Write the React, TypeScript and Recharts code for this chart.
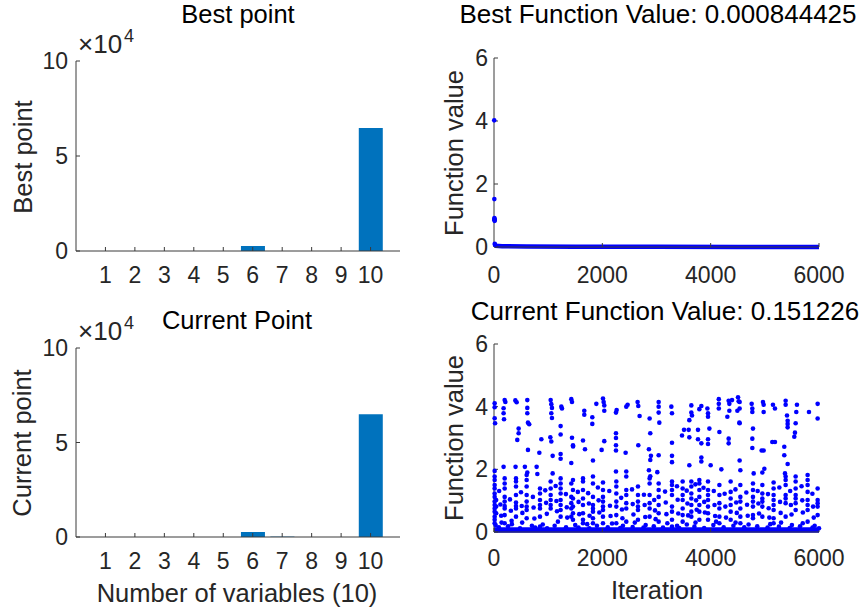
import React from 'react';
import { BarChart, Bar, ComposedChart, Scatter, Line, XAxis, YAxis } from 'recharts';

const FONT = '"Liberation Sans", Arial, Helvetica, sans-serif';
const AXIS = '#3a3a3a';
const TEXT = '#262626';
const BAR_BLUE = '#0072BD';
const DOT_BLUE = '#0000FF';

// bar panels
const variableLabels = ['1', '2', '3', '4', '5', '6', '7', '8', '9', '10'];
const bestPointValues = [0, 0, 0, 0, 0, 2600, 0, 0, 0, 64800];
const currentPointValues = [0, 0, 0, 0, 0, 2600, 200, 0, 0, 64900];
const barTicks = [0, 50000, 100000];

// function value panels
const iterTicks = [0, 2000, 4000, 6000];
const valueTicks = [0, 2, 4, 6];

// best function value: early jumps, then the flat trail near zero
const bestEarly: [number, number][] = [
  [4, 4.02], [6, 1.52], [8, 0.92], [9, 0.89], [10, 0.87], [11, 0.85], [12, 0.83], [14, 0.1], [18, 0.07],
];
const bestTrail: [number, number][] = [
  [20, 0.04], [150, 0.025], [600, 0.015], [1500, 0.01], [3000, 0.006], [4500, 0.002], [6000, 0.0008],
];

// current function value, upper scatter (> ~1.85)
const currentHigh: [number, number][] = [
  [12, 4.11], [12, 3.98], [12, 3.63], [20, 3.47], [197, 4.21], [210, 4.15], [177, 3.95], [177, 3.79], [185, 3.6],
  [394, 4.2], [418, 4.14], [615, 4.21], [615, 3.96], [615, 3.79], [627, 3.49], [650, 3.44], [455, 3.3], [455, 3.15],
  [430, 2.94], [627, 2.62], [874, 2.96], [837, 2.53], [1046, 4.21], [1058, 4.08], [1070, 3.96], [1058, 3.79],
  [1070, 3.64], [1040, 3.02], [1058, 2.89], [1083, 2.43], [1243, 4.0], [1255, 3.94], [1230, 3.38], [1230, 3.11],
  [1230, 2.49], [1230, 2.34], [1427, 4.24], [1440, 4.15], [1440, 3.01], [1460, 2.73], [1427, 2.2], [177, 2.08],
  [398, 2.08], [570, 2.08], [787, 2.08], [12, 1.95], [1083, 1.87], [615, 1.9], [800, 1.85],
  [1889, 4.09], [2012, 4.26], [2024, 4.15], [2036, 4.04], [2036, 3.87], [1667, 3.87], [1667, 3.74], [1815, 3.66],
  [1815, 3.45], [2252, 3.81], [2264, 3.89], [2442, 4.0], [2467, 4.06], [2651, 4.15], [2664, 4.02], [2688, 3.7],
  [2873, 3.62], [2885, 3.15], [2860, 2.64], [2897, 2.43], [2885, 2.3], [2860, 1.97], [1458, 2.77], [1643, 2.92],
  [1680, 2.64], [1987, 2.62], [2036, 2.9], [2252, 3.15], [2252, 3.0], [2252, 2.77], [2252, 2.6], [2430, 2.53],
  [2664, 2.77], [1827, 2.28], [2252, 1.93], [2442, 1.93],
  [3040, 4.15], [3040, 4.0], [3040, 3.81], [3052, 3.49], [3274, 4.0], [3286, 3.79], [3643, 4.04], [3643, 3.81],
  [3655, 3.72], [3791, 3.92], [3828, 4.02], [3939, 3.94], [3951, 3.79], [3951, 3.68], [4150, 4.24], [4150, 4.09],
  [4150, 3.94], [4332, 4.19], [4394, 4.21], [4345, 4.09], [4345, 3.87], [4505, 4.3], [4517, 4.17], [4493, 3.87],
  [4308, 3.68], [4530, 3.49], [3606, 3.57], [3594, 3.26], [3508, 3.26], [3471, 3.08], [3766, 3.26], [3976, 3.3],
  [4161, 3.19], [3606, 3.02], [3286, 2.85], [3766, 2.96], [3828, 2.83], [3951, 2.96], [3951, 2.81], [4332, 2.98],
  [4332, 2.83], [3040, 2.45], [3286, 2.43], [3286, 2.23], [3828, 2.38], [3828, 2.25], [3606, 2.13], [4000, 2.13],
  [4197, 2.0], [3015, 1.91],
  [4535, 4.15], [4535, 3.94], [4535, 3.47], [4757, 4.09], [4769, 3.94], [4769, 3.83], [4966, 4.15], [4978, 4.06],
  [4978, 3.83], [5150, 4.06], [5187, 3.94], [5384, 4.19], [5384, 4.06], [5409, 3.72], [5421, 3.55], [5421, 3.45],
  [5421, 3.34], [5593, 4.06], [5581, 3.83], [5815, 3.83], [5975, 4.09], [5975, 3.62], [4781, 3.3], [4769, 2.98],
  [4769, 2.68], [4978, 2.6], [4941, 2.6], [5187, 2.87], [5138, 2.87], [5569, 3.47], [5556, 3.17], [5544, 3.04],
  [4535, 2.28], [4548, 1.97], [5359, 2.72], [5359, 2.45], [5421, 2.17], [5372, 1.87], [4794, 1.87], [4954, 1.9],
  [4991, 2.02],
];

// current function value, middle band (~0.2 to ~1.85)
const currentMid: [number, number][] = [
  [12, 1.77], [12, 1.66], [12, 1.5], [12, 1.39], [12, 1.23], [12, 1.12], [12, 0.97], [12, 0.86], [12, 0.75],
  [12, 0.65], [12, 0.49], [12, 0.39], [12, 0.28], [40, 1.02], [40, 0.81], [40, 0.6],
  [197, 1.71], [197, 1.55], [197, 1.39], [197, 1.12], [197, 0.97], [197, 0.83], [197, 0.75], [197, 0.54], [197, 0.28],
  [406, 1.71], [406, 1.61], [406, 1.45], [406, 1.18], [406, 0.94], [406, 0.83], [406, 0.75], [406, 0.49],
  [603, 1.82], [603, 1.66], [603, 1.45], [603, 1.18], [603, 0.97], [603, 0.81], [603, 0.7], [603, 0.44],
  [849, 1.39], [849, 1.23], [849, 1.02], [849, 0.86], [849, 0.75], [849, 0.49], [849, 0.17],
  [1046, 1.61], [1046, 1.39], [1046, 1.18], [1046, 1.02], [1046, 0.86], [1046, 0.75],
  [1230, 1.71], [1230, 1.55], [1230, 1.39], [1230, 1.23], [1230, 1.02], [1230, 0.86], [1230, 0.7], [1230, 0.49],
  [1427, 1.55], [1427, 1.12], [1427, 0.92], [1427, 0.75], [1427, 0.49],
  [1458, 1.66], [1458, 1.34], [1458, 1.07], [1458, 0.81], [1458, 0.6], [1458, 0.39],
  [1643, 1.71], [1643, 1.61], [1643, 1.34], [1643, 1.07], [1643, 0.86], [1643, 0.6], [1643, 0.39], [1643, 0.28],
  [1827, 1.77], [1827, 1.55], [1827, 1.12], [1827, 0.86], [1827, 0.75], [1827, 0.65], [1827, 0.44], [1827, 0.28],
  [2012, 1.58], [2012, 1.34], [2012, 1.12], [2012, 0.97], [2012, 0.81], [2012, 0.7], [2012, 0.49], [2012, 0.28],
  [2258, 1.61], [2258, 1.45], [2258, 1.23], [2258, 0.97], [2258, 0.81], [2258, 0.54], [2258, 0.28],
  [2442, 1.77], [2442, 1.34], [2442, 1.18], [2442, 0.92], [2442, 0.75], [2442, 0.33],
  [2658, 1.45], [2658, 1.18], [2658, 0.97], [2658, 0.81], [2658, 0.7], [2658, 0.39],
  [2873, 1.71], [2873, 1.55], [2873, 1.18], [2873, 0.92], [2873, 0.75], [2873, 0.49], [2885, 1.78],
  [3040, 1.55], [3040, 1.34], [3040, 1.12], [3040, 0.86], [3040, 0.6], [3040, 0.33],
  [3286, 1.61], [3286, 1.5], [3286, 1.34], [3286, 1.18], [3286, 0.81], [3286, 0.65], [3286, 0.39], [3286, 0.17],
  [3483, 1.61], [3483, 1.39], [3483, 1.18], [3483, 1.02], [3483, 0.75], [3483, 0.54], [3483, 0.33],
  [3643, 1.61], [3643, 1.45], [3643, 1.23], [3643, 1.07], [3643, 0.86], [3643, 0.65], [3643, 0.49],
  [3791, 1.66], [3791, 1.55], [3791, 1.34], [3791, 1.12], [3791, 0.86], [3791, 0.65], [3791, 0.39],
  [3951, 1.61], [3951, 1.34], [3951, 1.18], [3951, 1.02], [3951, 0.81], [3951, 0.6], [3951, 0.39],
  [4161, 1.5], [4161, 1.18], [4161, 0.92], [4161, 0.75], [4161, 0.49], [4161, 0.28],
  [4369, 1.61], [4369, 1.28], [4369, 1.07], [4369, 0.86], [4369, 0.65], [4369, 0.39],
  [4548, 1.5], [4548, 1.12], [4548, 0.97], [4548, 0.75], [4548, 0.49], [4548, 0.28],
  [4781, 1.55], [4781, 1.34], [4781, 1.12], [4781, 0.97], [4781, 0.81], [4781, 0.54], [4781, 0.44],
  [4954, 1.5], [4954, 1.23], [4954, 1.07], [4954, 0.97], [4954, 0.81], [4954, 0.49],
  [5162, 1.58], [5162, 1.39], [5162, 1.18], [5162, 1.02], [5162, 0.86], [5162, 0.7], [5162, 0.44], [5162, 0.28],
  [5384, 1.77], [5384, 1.66], [5384, 1.5], [5384, 1.18], [5384, 1.07], [5384, 0.92], [5384, 0.49],
  [5569, 1.77], [5569, 1.61], [5569, 1.39], [5569, 1.18], [5569, 1.07], [5569, 0.92], [5569, 0.7],
  [5790, 1.82], [5790, 1.66], [5790, 1.5], [5790, 1.28], [5790, 1.02], [5790, 0.86], [5790, 0.7], [5790, 0.33],
  [5975, 1.39], [5975, 1.02], [5975, 0.92], [5975, 0.81], [5975, 0.54],
];

// extra dots sitting between the visible stripes of the middle band
const currentMidFill: [number, number][] = [
  [95, 1.31], [118, 0.88], [132, 0.52], [295, 1.04], [312, 0.68], [325, 0.36], [498, 1.27], [512, 0.83],
  [524, 0.61], [718, 1.12], [731, 0.78], [745, 0.43], [946, 1.33], [962, 0.93], [975, 0.58], [1138, 1.47],
  [1152, 0.99], [1163, 0.66], [1328, 1.21], [1344, 0.79], [1352, 0.46], [1548, 1.28], [1561, 0.96],
  [1574, 0.57], [1738, 1.24], [1752, 0.91], [1764, 0.52], [1918, 1.42], [1931, 1.01], [1944, 0.62],
  [2128, 1.31], [2141, 0.84], [2152, 0.51], [2348, 1.09], [2362, 0.72], [2371, 0.44], [2548, 1.36],
  [2561, 0.89], [2574, 0.56], [2768, 1.19], [2781, 0.86], [2792, 0.48], [2958, 1.02], [2972, 0.69],
  [2984, 0.41], [3158, 1.29], [3171, 0.94], [3183, 0.57], [3378, 1.46], [3391, 1.03], [3402, 0.59],
  [3558, 1.32], [3571, 0.91], [3584, 0.53], [3718, 1.52], [3731, 1.01], [3742, 0.71], [3868, 1.41],
  [3881, 0.96], [3893, 0.62], [4058, 1.31], [4071, 0.86], [4082, 0.51], [4258, 1.22], [4271, 0.81],
  [4283, 0.46], [4458, 1.36], [4471, 0.94], [4482, 0.61], [4658, 1.26], [4672, 0.87], [4684, 0.52],
  [4868, 1.31], [4881, 0.91], [4893, 0.59], [5058, 1.21], [5071, 0.76], [5083, 0.46], [5268, 1.42],
  [5281, 0.96], [5292, 0.61], [5468, 1.31], [5481, 0.86], [5493, 0.56], [5678, 1.46], [5691, 1.01],
  [5702, 0.62], [5878, 1.22], [5891, 0.81], [5903, 0.46],
];

// current function value, floor near zero
const currentLow: [number, number][] = [
  [30, 0.22], [90, 0.15], [140, 0.3], [260, 0.18], [330, 0.25], [480, 0.12], [520, 0.3], [700, 0.2], [760, 0.14],
  [900, 0.24], [980, 0.12], [1120, 0.2], [1180, 0.33], [1330, 0.15], [1500, 0.22], [1560, 0.14], [1720, 0.25],
  [1760, 0.12], [1900, 0.2], [2100, 0.15], [2180, 0.27], [2330, 0.13], [2380, 0.2], [2560, 0.16], [2600, 0.3],
  [2760, 0.14], [2800, 0.22], [2950, 0.18], [3120, 0.14], [3200, 0.28], [3380, 0.2], [3420, 0.13], [3560, 0.24],
  [3700, 0.17], [3720, 0.3], [3880, 0.13], [4050, 0.22], [4100, 0.33], [4240, 0.15], [4420, 0.2], [4460, 0.3],
  [4620, 0.15], [4700, 0.24], [4860, 0.18], [5050, 0.14], [5100, 0.25], [5260, 0.17], [5300, 0.3], [5460, 0.13],
  [5500, 0.22], [5650, 0.18], [5700, 0.28], [5880, 0.14], [5920, 0.2], [6000, 0.12],
];
const currentFloor: [number, number][] = [
  [0, 0.06], [1500, 0.06], [3000, 0.06], [4500, 0.06], [6000, 0.06],
];

const toXY = (pts: [number, number][]) => pts.map(([x, y]) => ({ x, y }));

const tickStyle = { fill: TEXT, fontSize: 23, fontFamily: FONT };

const Dot = (props: any) => <circle cx={props.cx} cy={props.cy} r={2.3} fill={DOT_BLUE} />;

const abs = (left: number, top: number): React.CSSProperties => ({ position: 'absolute', left, top });

function Title({ x, y, text, size = 25.5 }: { x: number; y: number; text: string; size?: number }) {
  return (
    <div style={{ ...abs(x, y), transform: 'translate(-50%, -50%)', whiteSpace: 'nowrap', fontSize: size, color: '#000' }}>
      {text}
    </div>
  );
}

function YLabel({ x, y, text }: { x: number; y: number; text: string }) {
  return (
    <div style={{ ...abs(x, y), transform: 'translate(-50%, -50%) rotate(-90deg)', whiteSpace: 'nowrap', fontSize: 25.5, color: TEXT }}>
      {text}
    </div>
  );
}

// "×10^4" multiplier drawn with exact baselines
function Exponent({ x, baseline }: { x: number; baseline: number }) {
  return (
    <svg width={70} height={40} style={{ ...abs(x, baseline - 30), overflow: 'visible' }}>
      <text x={0} y={30} style={{ fontSize: 26, fontFamily: FONT }} fill={TEXT}>×10</text>
      <text x={46} y={19} style={{ fontSize: 18, fontFamily: FONT }} fill={TEXT}>4</text>
    </svg>
  );
}

function BarPanel({ values, top, height, marginTop, marginBottom }: {
  values: number[]; top: number; height: number; marginTop: number; marginBottom: number;
}) {
  const data = variableLabels.map((name, i) => ({ name, value: values[i] }));
  return (
    <div style={abs(0, top)}>
      <BarChart
        width={430}
        height={height}
        data={data}
        margin={{ top: marginTop, right: 30, left: 0, bottom: marginBottom }}
        barCategoryGap="10%"
      >
        <XAxis
          dataKey="name"
          padding={{ left: 14.7, right: 14.7 }}
          height={40}
          tick={tickStyle}
          tickSize={-4}
          tickMargin={20}
          stroke={AXIS}
          interval={0}
        />
        <YAxis
          width={76}
          domain={[0, 100000]}
          ticks={barTicks}
          tickFormatter={(v: number) => String(v / 10000)}
          tick={tickStyle}
          tickSize={-4}
          tickMargin={12}
          stroke={AXIS}
        />
        <Bar dataKey="value" fill={BAR_BLUE} isAnimationActive={false} />
      </BarChart>
    </div>
  );
}

function ValuePanel({ top, height, marginTop, marginBottom, tickMargin, children }: {
  top: number; height: number; marginTop: number; marginBottom: number; tickMargin: number; children: React.ReactNode;
}) {
  return (
    <div style={abs(430, top)}>
      <ComposedChart width={431} height={height} margin={{ top: marginTop, right: 42, left: 0, bottom: marginBottom }}>
        <XAxis
          type="number"
          dataKey="x"
          domain={[0, 6000]}
          ticks={iterTicks}
          height={40}
          tick={tickStyle}
          tickSize={-4}
          tickMargin={tickMargin}
          stroke={AXIS}
        />
        <YAxis
          type="number"
          dataKey="y"
          width={64}
          domain={[0, 6]}
          ticks={valueTicks}
          tick={tickStyle}
          tickSize={-4}
          tickMargin={10}
          stroke={AXIS}
        />
        {children}
      </ComposedChart>
    </div>
  );
}

export default function App() {
  return (
    <div style={{ position: 'absolute', left: 0, top: 0, width: 861, height: 615, background: '#fff', fontFamily: FONT, overflow: 'hidden' }}>
      <BarPanel values={bestPointValues} top={0} height={300} marginTop={61} marginBottom={9} />
      <BarPanel values={currentPointValues} top={300} height={315} marginTop={48} marginBottom={38} />

      <ValuePanel top={0} height={300} marginTop={58} marginBottom={13} tickMargin={24}>
        <Line data={toXY(bestTrail)} dataKey="y" stroke={DOT_BLUE} strokeWidth={4.5} dot={false} isAnimationActive={false} />
        <Scatter data={toXY(bestEarly)} dataKey="y" shape={Dot} isAnimationActive={false} />
      </ValuePanel>

      <ValuePanel top={300} height={315} marginTop={44} marginBottom={43} tickMargin={22}>
        <Line data={toXY(currentFloor)} dataKey="y" stroke={DOT_BLUE} strokeWidth={5.5} dot={false} isAnimationActive={false} />
        <Scatter data={toXY(currentLow)} dataKey="y" shape={Dot} isAnimationActive={false} />
        <Scatter data={toXY(currentMid)} dataKey="y" shape={Dot} isAnimationActive={false} />
        <Scatter data={toXY(currentMidFill)} dataKey="y" shape={Dot} isAnimationActive={false} />
        <Scatter data={toXY(currentHigh)} dataKey="y" shape={Dot} isAnimationActive={false} />
      </ValuePanel>

      <Title x={238} y={14} text="Best point" />
      <Title x={658} y={14} text="Best Function Value: 0.000844425" size={26} />
      <Title x={237} y={320} text="Current Point" />
      <Title x={665} y={311} text="Current Function Value: 0.151226" size={26} />

      <Exponent x={78} baseline={53} />
      <Exponent x={78} baseline={340} />

      <YLabel x={23} y={157} text="Best point" />
      <YLabel x={22} y={443} text="Current point" />
      <YLabel x={454} y={153} text="Function value" />
      <YLabel x={454} y={438} text="Function value" />

      <div style={{ ...abs(237, 593), transform: 'translate(-50%, -50%)', whiteSpace: 'nowrap', fontSize: 25.5, color: TEXT }}>
        Number of variables (10)
      </div>
      <div style={{ ...abs(657, 590), transform: 'translate(-50%, -50%)', whiteSpace: 'nowrap', fontSize: 25.5, color: TEXT }}>
        Iteration
      </div>
    </div>
  );
}
